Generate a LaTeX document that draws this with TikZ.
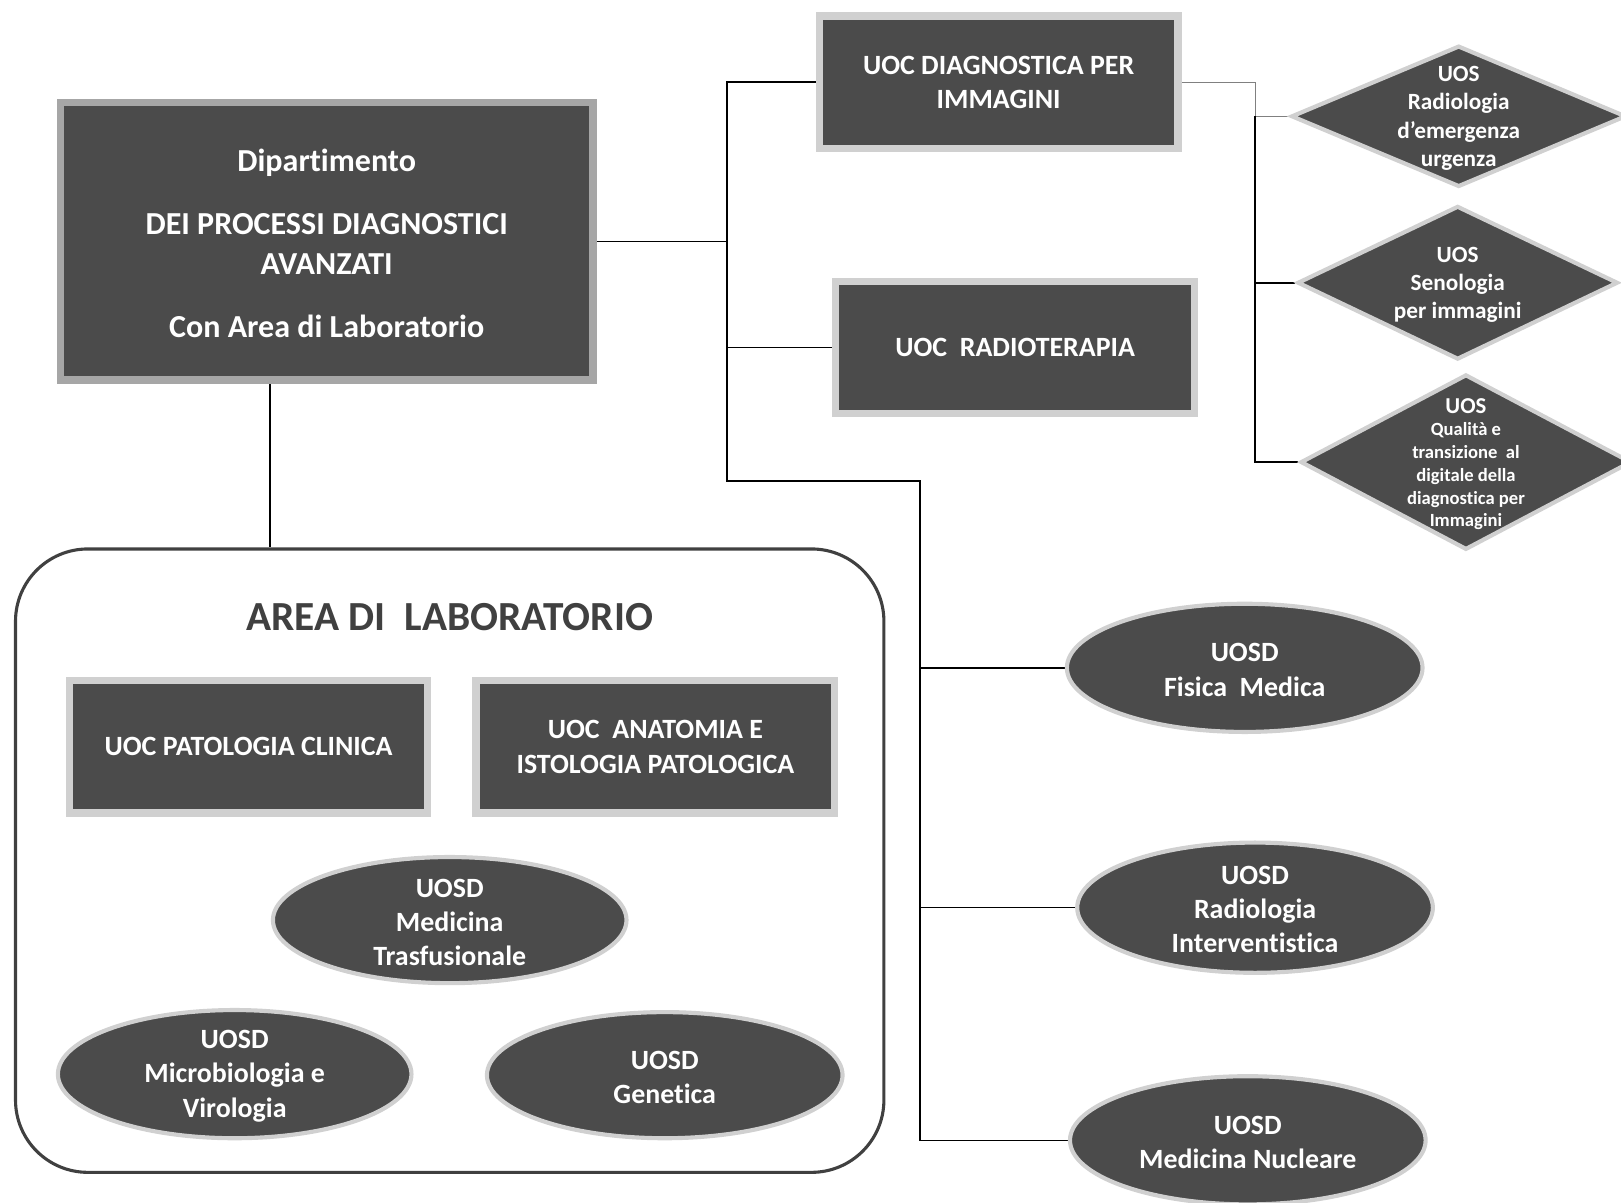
\documentclass[tikz,border=0pt]{standalone}
\usepackage{fontspec}
\setmainfont{Carlito}[Ligatures=NoCommon]
\usetikzlibrary{shapes.geometric}
\definecolor{unitfill}{HTML}{4B4B4B}
\definecolor{unitrim}{HTML}{D0D0D0}
\definecolor{deptrim}{HTML}{A6A6A6}
\definecolor{labline}{HTML}{404040}
\pgfdeclarelayer{background}
\pgfsetlayers{background,main}
\begin{document}
\begin{tikzpicture}[x=1pt,y=-1pt,
  link/.style={line width=1.5pt, black},
  thinlink/.style={line width=1pt, gray},
  unitbox/.style={rectangle, fill=unitfill, draw=unitrim, line width=7pt, inner sep=0pt,
    minimum width=347pt, minimum height=128pt, text=white, align=center,
    font=\bfseries\fontsize{27}{33}\selectfont},
  deptbox/.style={unitbox, draw=deptrim, minimum width=515pt, minimum height=268pt,
    font=\bfseries\fontsize{31}{38}\selectfont},
  uosd/.style={ellipse, fill=unitfill, draw=unitrim, line width=4pt, inner sep=0pt,
    minimum width=344pt, minimum height=124pt},
  uos/.style={diamond, fill=unitfill, draw=unitrim, line width=4pt, inner sep=0pt},
  caption/.style={text=white, align=center, inner sep=0pt, yshift=-2pt,
    font=\bfseries\fontsize{27}{33}\selectfont},
  uoscaption/.style={caption, font=\bfseries\fontsize{22.5}{27.5}\selectfont},
  tinycaption/.style={caption, font=\bfseries\fontsize{18}{22}\selectfont},
]
\useasboundingbox (0,0) rectangle (1568,1163);

% department and its complex units
\node[deptbox] (dept) at (316,233.5) {};
\node[text=white, align=center, inner sep=0pt, font=\bfseries\fontsize{31}{38}\selectfont]
  (depttext) at ([yshift=-2pt]dept.center)
  {Dipartimento\\[23pt]DEI PROCESSI DIAGNOSTICI\\AVANZATI\\[23pt]Con Area di Laboratorio};
\node[unitbox] (diag) at (966,79.5) {UOC DIAGNOSTICA PER\\IMMAGINI};
\node[unitbox] (radio) at (982,336) {UOC\ \ RADIOTERAPIA};

% simple units of the imaging unit
\node[uos, minimum width=324pt, minimum height=136.6pt,
  label={[uoscaption]center:UOS\\Radiologia\\d’emergenza\\urgenza}] (d1) at (1411,112.5) {};
\node[uos, minimum width=310pt, minimum height=148.6pt,
  label={[uoscaption, font=\bfseries\fontsize{22.5}{27}\selectfont]center:UOS\\Senologia\\per immagini}] (d2) at (1410,273.5) {};
\node[uos, minimum width=320pt, minimum height=169.6pt,
  label={[tinycaption]center:{\fontsize{22}{24}\selectfont UOS}\\Qualità e\\transizione\ \ al\\digitale della\\diagnostica per\\Immagini}] (d3) at (1418,447) {};

% departmental simple units
\node[uosd, label={[caption]center:UOSD\\Fisica\ \ Medica}] (fis) at (1204,646) {};
\node[uosd, minimum height=126pt,
  label={[caption]center:UOSD\\Radiologia\\Interventistica}] (rad) at (1214,878) {};
\node[uosd, label={[caption]center:UOSD\\Medicina Nucleare}] (nuc) at (1207,1103) {};

% laboratory area
\node[draw=labline, line width=3pt, rounded corners=70pt, inner sep=0pt,
  minimum width=840pt, minimum height=603pt] (lab) at (435,832.5) {};
\node[text=labline, inner sep=0pt, font=\bfseries\fontsize{40}{48}\selectfont]
  (labtitle) at (435,597) {AREA DI\ \ LABORATORIO};
\node[unitbox, minimum width=346pt] (pato) at (240.5,722.5) {UOC PATOLOGIA CLINICA};
\node[unitbox] (anat) at (634,722.5) {UOC\ \ ANATOMIA E\\ISTOLOGIA PATOLOGICA};
\node[uosd, minimum width=342pt, minimum height=122pt,
  label={[caption]center:UOSD\\Medicina\\Trasfusionale}] (trasf) at (435,890) {};
\node[uosd, minimum width=342pt,
  label={[caption]center:UOSD\\Microbiologia e\\Virologia}] (micro) at (227,1039) {};
\node[uosd, minimum height=122pt,
  label={[caption]center:UOSD\\Genetica}] (gen) at (643,1040) {};

% connectors
\coordinate (trunktop) at (703,79.5);
\coordinate (trunkend) at (703,465);
\coordinate (bus) at (890,465);
\coordinate (hub) at (1214,79.5);
\begin{pgfonlayer}{background}
\draw[link] (dept.east) -- (dept.east -| trunktop);
\draw[link] (diag.west) -- (trunktop) -- (trunkend) -- (bus) -- (bus |- nuc.west) -- (nuc.west);
\draw[link] (radio.west) -- (radio.west -| trunktop);
\draw[link] (fis.west -| bus) -- (fis.west);
\draw[link] (rad.west -| bus) -- (rad.west);
\draw[thinlink] (diag.east) -- (hub) -- (hub |- d1.west) -- (d1.west);
\draw[link] (hub |- d1.west) -- (hub |- d3.west) -- (d3.west);
\draw[link] (hub |- d2.west) -- (d2.west);
\draw[link] ([xshift=-55pt]dept.south) -- ([xshift=-55pt]dept.south |- lab.north);
\end{pgfonlayer}
\end{tikzpicture}
\end{document}
